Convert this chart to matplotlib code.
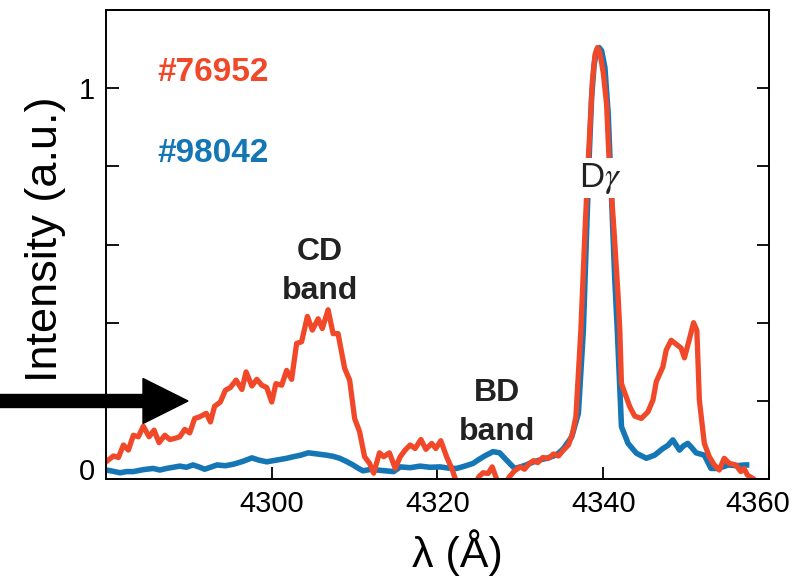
import numpy as np
import matplotlib
matplotlib.use("Agg")
import matplotlib.pyplot as plt
from matplotlib.patches import FancyArrow
from matplotlib.transforms import ScaledTranslation

plt.rcParams['font.family'] = ['Liberation Sans', 'DejaVu Sans']
plt.rcParams['mathtext.fontset'] = 'stix'

# shot #76952 (red)
red_wl = [4280.0, 4280.9, 4281.5, 4282.1, 4282.7, 4283.3, 4283.9, 4284.5, 4285.2, 4285.8,
          4286.4, 4287.1, 4287.7, 4288.3, 4288.9, 4289.5, 4290.1, 4290.7, 4291.3, 4292.1,
          4292.6, 4293.1, 4293.8, 4294.4, 4295.0, 4295.7, 4296.4, 4296.9, 4297.6, 4298.2,
          4298.8, 4299.4, 4300.0, 4300.5, 4301.2, 4301.8, 4302.4, 4303.0, 4303.6, 4304.3,
          4304.9, 4305.6, 4306.1, 4306.8, 4307.4, 4308.0, 4308.8, 4309.4, 4310.0, 4310.6,
          4311.2, 4311.8, 4312.3, 4313.0, 4313.5, 4314.2, 4314.9, 4315.5, 4316.1, 4316.7,
          4317.3, 4318.0, 4318.6, 4319.3, 4319.8, 4320.4, 4321.1, 4321.8, 4322.3, 4323.0,
          4324.0, 4324.6, 4325.0, 4325.5, 4326.1, 4326.6, 4327.1, 4327.6, 4328.2, 4328.7,
          4329.3, 4330.0, 4330.5, 4331.1, 4331.6, 4332.1, 4332.7, 4333.4, 4334.0, 4334.6,
          4335.2, 4335.8, 4336.3, 4336.7, 4337.3, 4337.8, 4338.2, 4338.7, 4339.0, 4339.3,
          4339.6, 4340.0, 4340.4, 4340.7, 4341.3, 4341.8, 4342.0, 4342.2, 4343.2, 4343.8,
          4344.6, 4345.4, 4346.0, 4346.4, 4347.2, 4347.6, 4348.2, 4348.8, 4349.4, 4349.8,
          4350.3, 4350.9, 4351.3, 4351.6, 4352.2, 4352.8, 4353.4, 4354.0, 4354.6, 4355.2,
          4356.0, 4356.6, 4357.0, 4357.4, 4358.0]
red_int = [0.044, 0.059, 0.055, 0.087, 0.074, 0.112, 0.108, 0.135, 0.108, 0.125,
           0.093, 0.112, 0.101, 0.104, 0.108, 0.127, 0.118, 0.155, 0.159, 0.168,
           0.146, 0.186, 0.197, 0.227, 0.234, 0.253, 0.229, 0.274, 0.238, 0.255,
           0.240, 0.234, 0.197, 0.244, 0.240, 0.278, 0.255, 0.347, 0.351, 0.416,
           0.381, 0.410, 0.385, 0.433, 0.372, 0.372, 0.283, 0.253, 0.155, 0.121,
           0.057, 0.040, 0.015, 0.067, 0.057, 0.067, 0.027, 0.057, 0.074, 0.087,
           0.078, 0.101, 0.076, 0.091, 0.078, 0.098, 0.057, 0.023, -0.010, -0.040,
           -0.030, -0.010, 0.006, 0.016, 0.014, 0.031, 0.002, -0.030, -0.010, 0.006,
           0.021, 0.031, 0.025, 0.040, 0.047, 0.042, 0.055, 0.053, 0.064, 0.059,
           0.074, 0.087, 0.117, 0.159, 0.380, 0.636, 0.819, 1.020, 1.085, 1.104,
           1.090, 1.040, 0.960, 0.819, 0.636, 0.466, 0.380, 0.244, 0.185, 0.161,
           0.155, 0.172, 0.202, 0.249, 0.287, 0.330, 0.355, 0.345, 0.335, 0.310,
           0.350, 0.400, 0.380, 0.202, 0.091, 0.057, 0.036, 0.023, 0.053, 0.040,
           0.036, 0.019, 0.027, 0.010, 0.002]

# shot #98042 (blue)
blue_wl = [4280.0, 4280.8, 4281.7, 4282.5, 4283.3, 4284.5, 4285.7, 4286.5, 4287.3, 4288.1,
           4288.9, 4289.7, 4290.5, 4291.2, 4291.9, 4292.6, 4293.4, 4294.4, 4295.4, 4296.5,
           4297.6, 4298.5, 4299.4, 4300.2, 4301.0, 4301.8, 4302.6, 4303.5, 4304.4, 4305.5,
           4306.6, 4307.4, 4308.2, 4309.0, 4309.8, 4310.4, 4311.0, 4311.8, 4312.7, 4313.7,
           4314.7, 4315.5, 4316.7, 4317.9, 4319.1, 4320.3, 4321.3, 4322.3, 4323.3, 4324.3,
           4325.0, 4325.7, 4326.7, 4327.5, 4328.3, 4329.3, 4330.0, 4330.7, 4331.5, 4332.4,
           4333.2, 4334.0, 4334.6, 4335.2, 4336.2, 4337.0, 4337.6, 4338.0, 4338.3, 4338.6,
           4338.9, 4339.2, 4339.5, 4339.8, 4340.2, 4340.6, 4341.0, 4341.4, 4341.7, 4342.2,
           4343.0, 4344.0, 4345.2, 4346.2, 4347.2, 4347.8, 4348.4, 4349.2, 4349.7, 4350.2,
           4350.7, 4351.2, 4352.2, 4353.0, 4353.9, 4355.1, 4356.1, 4357.1, 4357.3]
blue_int = [0.023, 0.020, 0.016, 0.019, 0.019, 0.024, 0.027, 0.023, 0.027, 0.030,
            0.033, 0.030, 0.036, 0.031, 0.025, 0.030, 0.036, 0.034, 0.038, 0.045,
            0.054, 0.048, 0.044, 0.047, 0.050, 0.053, 0.057, 0.061, 0.067, 0.064,
            0.061, 0.058, 0.053, 0.045, 0.036, 0.028, 0.021, 0.024, 0.023, 0.021,
            0.019, 0.031, 0.029, 0.033, 0.030, 0.031, 0.028, 0.027, 0.033, 0.040,
            0.050, 0.059, 0.070, 0.067, 0.049, 0.027, 0.031, 0.036, 0.043, 0.049,
            0.053, 0.059, 0.066, 0.078, 0.108, 0.168, 0.380, 0.636, 0.823, 0.977,
            1.060, 1.096, 1.104, 1.096, 1.053, 0.934, 0.721, 0.508, 0.380, 0.134,
            0.091, 0.066, 0.053, 0.061, 0.078, 0.086, 0.100, 0.074, 0.085, 0.091,
            0.080, 0.067, 0.061, 0.027, 0.027, 0.036, 0.034, 0.036, 0.036]

red = '#F04828'
blue = '#1576B6'

fig = plt.figure(figsize=(8.08, 5.79), dpi=100)
ax = fig.add_axes([0.1312, 0.1727, 0.8205, 0.81])

ax.plot(blue_wl, blue_int, color=blue, lw=4.0)
ax.plot(red_wl, red_int, color=red, lw=3.8)

ax.set_xlim(4280, 4360)
ax.set_ylim(0, 1.2)
ax.set_xticks([4300, 4320, 4340, 4360])
ax.set_yticks([0, 0.2, 0.4, 0.6, 0.8, 1.0, 1.2])
ax.set_yticklabels(['0', '', '', '', '', '1', ''])
ax.tick_params(direction='in', length=9, width=1.3, labelsize=21, pad=8,
               right=True, top=False)
for s in ax.spines.values():
    s.set_linewidth(1.4)

# small label offsets as in the picture
xl = ax.get_xticklabels()
xl[-1].set_transform(xl[-1].get_transform() + ScaledTranslation(-0.11, 0, fig.dpi_scale_trans))
yl = ax.get_yticklabels()
yl[0].set_transform(yl[0].get_transform() + ScaledTranslation(0, 0.1, fig.dpi_scale_trans))

fig.text(45 / 808, 1 - 239 / 579, 'Intensity (a.u.)', rotation=90, ha='center', va='center',
         fontsize=32.5)
fig.text(457 / 808, 1 - 553 / 579, 'λ (Å)', ha='center', va='center', fontsize=31)

ax.text(4286.2, 1.04, '#76952', color=red, fontsize=24, fontweight='bold', va='center')
ax.text(4286.2, 0.833, '#98042', color=blue, fontsize=24, fontweight='bold', va='center')
ax.text(4305.8, 0.53, 'CD\nband', ha='center', va='center', fontsize=23, fontweight='bold',
        color='#222222', linespacing=1.4)
ax.text(4327.2, 0.17, 'BD\nband', ha='center', va='center', fontsize=23, fontweight='bold',
        color='#222222', linespacing=1.4)
ax.text(4339.6, 0.77, r'D$\gamma$', ha='center', va='center', fontsize=25, color='#222222',
        bbox=dict(facecolor='white', edgecolor='none', pad=2), zorder=5)

arrow = FancyArrow(0, 1.78, 1.88, 0, width=0.13, head_width=0.45, head_length=0.45,
                   length_includes_head=True, color='black', transform=fig.dpi_scale_trans)
fig.patches.append(arrow)

fig.savefig('out.png', dpi=100)
